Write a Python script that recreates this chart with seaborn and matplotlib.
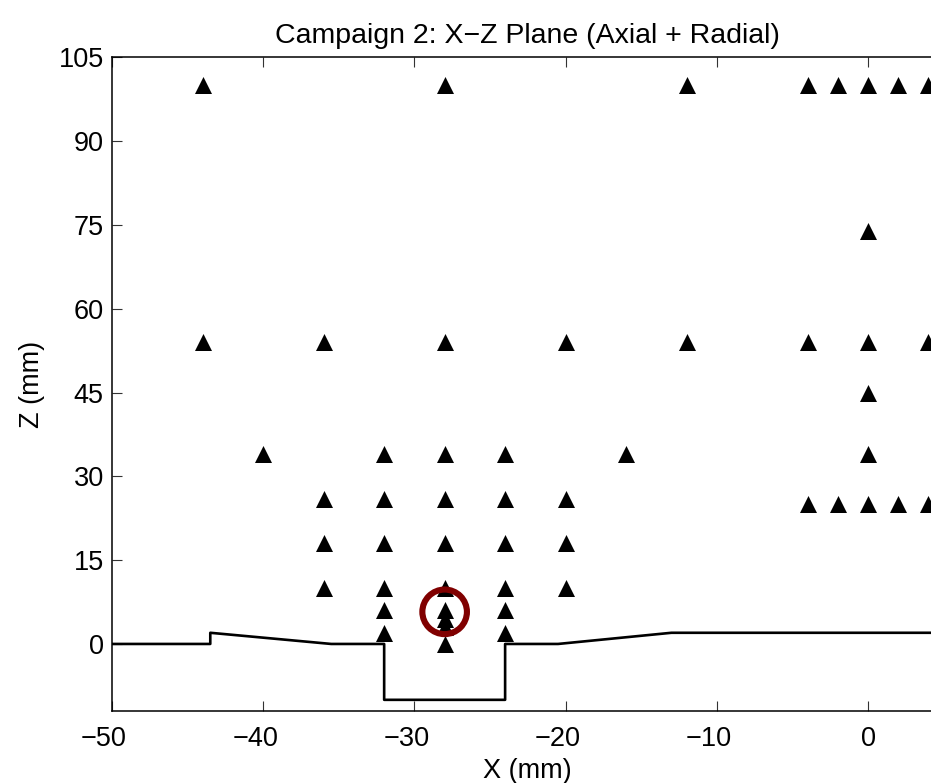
import matplotlib
matplotlib.use("Agg")
import matplotlib.pyplot as plt
import matplotlib.transforms as mtransforms
import seaborn as sns
import pandas as pd

# ---- data ----
probe_x = [-44, -28, -12, -4, -2, 0, 2, 4,
           0,
           -44, -36, -28, -20, -12, -4, 0, 4,
           0,
           -40, -32, -28, -24, -16, 0,
           -36, -32, -28, -24, -20,
           -4, -2, 0, 2, 4,
           -36, -32, -28, -24, -20,
           -36, -32, -28, -24, -20,
           -32, -28, -24,
           -28, -28,
           -32, -24,
           -28]
probe_z = [100, 100, 100, 100, 100, 100, 100, 100,
           74,
           54, 54, 54, 54, 54, 54, 54, 54,
           45,
           34, 34, 34, 34, 34, 34,
           26, 26, 26, 26, 26,
           25, 25, 25, 25, 25,
           18, 18, 18, 18, 18,
           10, 10, 10, 10, 10,
           6, 6, 6,
           4.5, 3,
           2, 2,
           0]

wall_x = [-50, -43.5, -43.5, -35.5, -32, -32, -24, -24, -20.5, -13, 5]
wall_z = [0, 0, 2, 0, 0, -10, -10, 0, 0, 2, 2]

highlight_x = [-28]
highlight_z = [5.75]

xticks = [-50, -40, -30, -20, -10, 0]
yticks = [0, 15, 30, 45, 60, 75, 90, 105]

title = "Campaign 2: X\u2212Z Plane (Axial + Radial)"
xlabel = "X (mm)"
ylabel = "Z (mm)"

# ---- plot ----
sns.set_theme(style="white")
plt.rcParams["font.family"] = ["Liberation Sans", "DejaVu Sans"]
plt.rcParams["axes.unicode_minus"] = True

fig = plt.figure(figsize=(9.31, 7.83), dpi=100)
ax = fig.add_axes([112 / 931, 72 / 783, 831.6 / 931, 653.7 / 783])

probes = pd.DataFrame({"x": probe_x, "z": probe_z})
wall = pd.DataFrame({"x": wall_x, "z": wall_z})
hl = pd.DataFrame({"x": highlight_x, "z": highlight_z})

sns.lineplot(data=wall, x="x", y="z", sort=False, estimator=None,
             color="black", linewidth=1.9, ax=ax, zorder=2)
sns.scatterplot(data=probes, x="x", y="z", marker="^", s=150,
                color="black", edgecolor="black", linewidth=0, ax=ax, zorder=3)
sns.scatterplot(data=hl, x="x", y="z", marker="o", s=1030,
                facecolor="none", edgecolor="#800000", linewidth=4.4,
                ax=ax, zorder=4)

ax.set_xlim(-50, 5)
ax.set_ylim(-12, 105)
ax.set_xticks(xticks)
ax.set_yticks(yticks)
ax.set_xticklabels([f"{t}".replace("-", "\u2212") for t in xticks])
ax.set_yticklabels([str(t) for t in yticks])

for s in ax.spines.values():
    s.set_visible(True)
    s.set_color("black")
    s.set_linewidth(1.1)

ax.tick_params(axis="both", which="both", direction="in", length=7,
               width=0.8, color="#333333", labelsize=19.5,
               top=True, right=True, bottom=True, left=True,
               labelcolor="black")
ax.tick_params(axis="x", pad=11)
ax.tick_params(axis="y", pad=6)

ax.set_title(title, fontsize=20.5, pad=10, color="black")
ax.set_xlabel(xlabel, fontsize=19.5, labelpad=4, color="black")
ax.set_ylabel(ylabel, fontsize=19.5, labelpad=10, color="black")

# digits centred on the tick, minus sign hanging to the left
shift = mtransforms.ScaledTranslation(-8 / 100, 0, fig.dpi_scale_trans)
for tick, val in zip(ax.xaxis.get_major_ticks(), xticks):
    if val < 0:
        tick.label1.set_transform(tick.label1.get_transform() + shift)

fig.savefig("out.png", dpi=100)
